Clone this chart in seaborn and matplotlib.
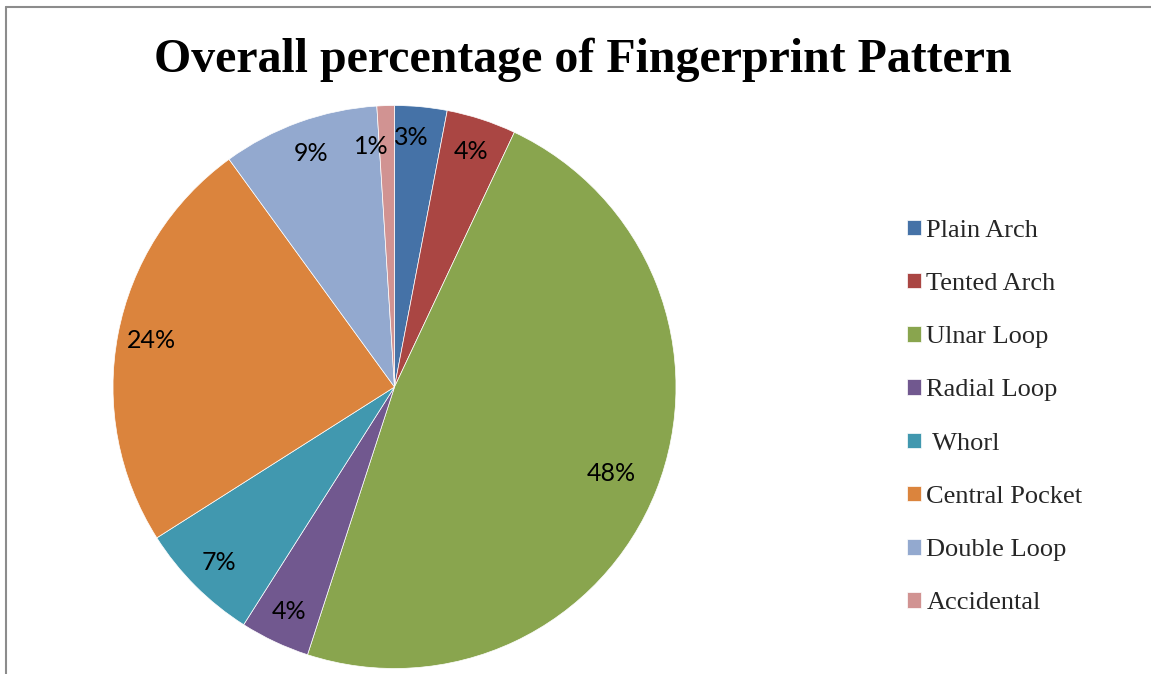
import matplotlib
matplotlib.use("Agg")
import numpy as np
import matplotlib.pyplot as plt
import seaborn as sns
from matplotlib.lines import Line2D

categories = ["Plain Arch", "Tented Arch", "Ulnar Loop", "Radial Loop", " Whorl",
              "Central Pocket", "Double Loop", "Accidental"]
values = [3, 4, 48, 4, 7, 24, 9, 1]
colors = ["#4572A7", "#AA4643", "#89A54E", "#71588F", "#4198AF",
          "#DB843D", "#93A9CF", "#D19392"]
title = "Overall percentage of Fingerprint Pattern"

sns.set_theme(style="white")

W, H = 1151, 674
fig = plt.figure(figsize=(W / 100, H / 100), dpi=100)
fig.patch.set_facecolor("white")

cx, cy, r = 394.5, 387.0, 281.5
ax = fig.add_axes([(cx - r) / W, 1 - (cy + r) / H, 2 * r / W, 2 * r / H])

wedges, texts, autotexts = ax.pie(
    values, colors=colors, startangle=90, counterclock=False,
    autopct=lambda p: f"{p:.0f}%", pctdistance=0.88, radius=1,
    wedgeprops=dict(edgecolor="white", linewidth=0.5),
    textprops=dict(family="Lato", fontsize=18, color="black"))
ax.set_xlim(-1, 1)
ax.set_ylim(-1, 1)
ax.set_aspect("auto")
ax.axis("off")

# Excel best-fit label placement: pull the big label inward, spread the tiny ones
def place(t, dist, dtheta):
    x, y = t.get_position()
    ang = np.arctan2(y, x) + np.deg2rad(dtheta)
    t.set_position((dist * np.cos(ang), dist * np.sin(ang)))

place(autotexts[2], 0.83, 0)
place(autotexts[0], 0.89, 1.5)
place(autotexts[7], 0.86, 3.7)

fig.text(583 / W, 1 - 72 / H, title, ha="center", va="baseline",
         family="Liberation Serif", fontweight="bold", fontsize=34.5, color="black")

leg = fig.legend(wedges, categories, loc="center left",
                 bbox_to_anchor=(907 / W, 1 - 417 / H),
                 frameon=False, prop=dict(family="Liberation Serif", size=19),
                 handlelength=0.53, handleheight=0.53, handletextpad=0.2,
                 labelspacing=1.18, borderpad=0, borderaxespad=0)

fig.add_artist(Line2D([6 / W, 1], [1 - 7 / H, 1 - 7 / H], transform=fig.transFigure,
                      color="#8c8c8c", linewidth=1.5))
fig.add_artist(Line2D([6 / W, 6 / W], [1 - 7 / H, 0], transform=fig.transFigure,
                      color="#8c8c8c", linewidth=1.5))

fig.savefig("out.png", dpi=100, facecolor="white")
